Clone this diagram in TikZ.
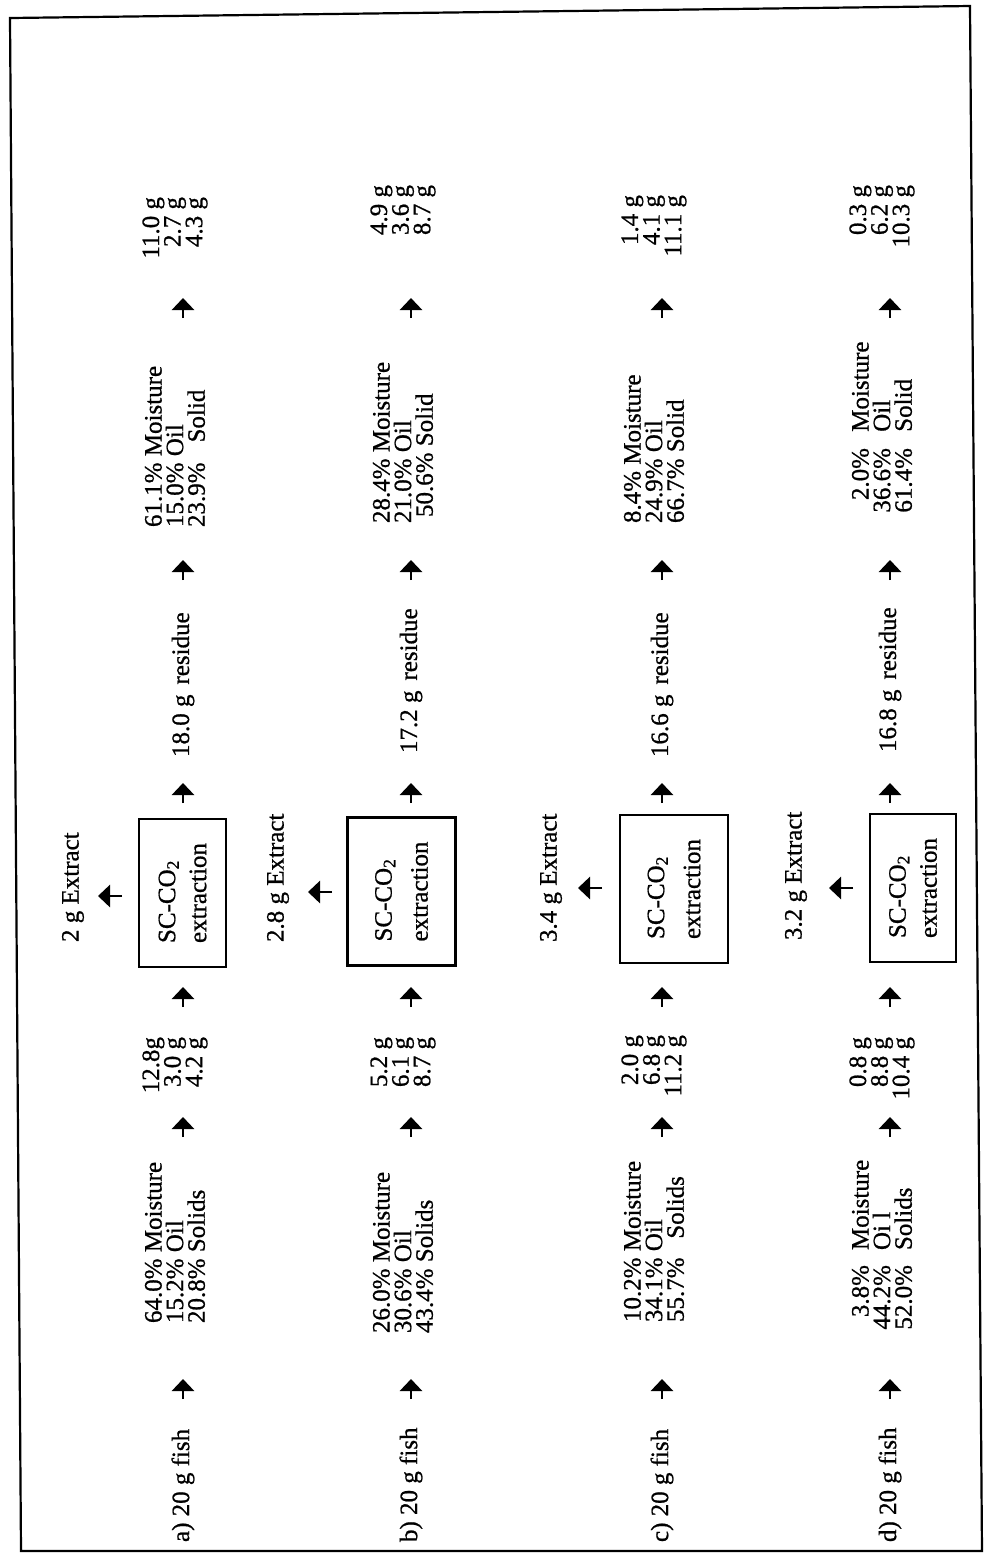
\documentclass[tikz,border=0pt]{standalone}
\usepackage{fontspec}
\setmainfont{Liberation Serif}[FakeBold=0.8]
\usetikzlibrary{arrows.meta}
\newcommand\pcrow[3]{\makebox[2.6em][r]{#1}\hspace{#3}#2}
\newcommand\lblfont{\fontsize{12.5}{10.8}\selectfont\lineskiplimit=-20pt\relax}
\newcommand\boxfont{\fontsize{12.5}{15.5}\selectfont}
\newcommand\wideboxfont{\fontsize{12.5}{18}\selectfont}
\begin{document}
\begin{tikzpicture}[x=0.5pt,y=-0.5pt,
  lbl/.style={rotate=90, inner sep=0pt, outer sep=0pt, font=\lblfont},
  lblL/.style={lbl, anchor=west, align=left},
  lblR/.style={lbl, anchor=east, align=right},
  procbox/.style={rotate=90, draw, line width=1.2pt, minimum width=74pt,
    inner sep=0pt, align=left, font=\boxfont},
  wideprocbox/.style={procbox, minimum height=54pt, font=\wideboxfont},
  arr/.style={line width=1.4pt, -{Triangle[length=6pt,width=11pt]}},
  frame/.style={line width=1.1pt, line join=miter}
]
\useasboundingbox (0,0) rectangle (984,1555);
\draw[frame] (10,18) -- (970,6) -- (982,1551) -- (21,1551) -- cycle;

% ---------- row a ----------
\node[lblL] (fishA) at (183,1542) {a) 20 g fish};
\node[lblL] (pA1) at (175,1323) {64.0\% Moisture\\15.2\% Oil\\20.8\% Solids};
\node[lblR] (gA1) at (175,1037) {12.8g\\3.0 g\\4.2 g};
\node[procbox, minimum height=43.5pt] (boxA) at (182.5,893) {SC-CO\textsubscript{2}\\extraction};
\node[lblL] (extA) at (73,942) {2 g Extract};
\node[lblL] (resA) at (183,757) {18.0 g\hspace{0.15em} residue};
\node[lblL] (pA2) at (175,527) {61.1\% Moisture\\15.0\% Oil\\23.9\%\hspace{0.55em} Solid};
\node[lblR] (gA2) at (175,197) {11.0 g\\2.7 g\\4.3 g};

% ---------- row b ----------
\node[lblL] (fishB) at (411,1542) {b) 20 g fish};
\node[lblL] (pB1) at (403,1333) {26.0\% Moisture\\30.6\% Oil\\43.4\% Solids};
\node[lblR] (gB1) at (403,1037) {5.2 g\\6.1 g\\8.7 g};
\node[wideprocbox] (boxB) at (401.5,891.5) {SC-CO\textsubscript{2}\\extraction};
\node[lblL] (extB) at (278,942) {2.8 g Extract};
\node[lblL] (resB) at (411,753) {17.2 g\hspace{0.15em} residue};
\node[lblL] (pB2) at (403,523) {28.4\% Moisture\\21.0\% Oil\\\hspace{3pt}50.6\% Solid};
\node[lblR] (gB2) at (403,185) {4.9 g\\3.6 g\\8.7 g};

% ---------- row c ----------
\node[lblL] (fishC) at (662,1542) {c) 20 g fish};
\node[lblL] (pC1) at (654,1322) {10.2\% Moisture\\34.1\% Oil\\55.7\%\hspace{0.5em} Solids};
\node[lblR] (gC1) at (654,1035) {2.0 g\\6.8 g\\11.2 g};
\node[wideprocbox] (boxC) at (674,889) {SC-CO\textsubscript{2}\\extraction};
\node[lblL] (extC) at (551,942) {3.4 g Extract};
\node[lblL] (resC) at (662,757) {16.6 g\hspace{0.15em} residue};
\node[lblL] (pC2) at (654,523) {8.4\% Moisture\\24.9\% Oil\\66.7\% Solid};
\node[lblR] (gC2) at (654,195) {1.4 g\\4.1 g\\11.1 g};

% ---------- row d ----------
\node[lblL] (fishD) at (890,1542) {d) 20 g fish};
\node[lblL] (pD1) at (882,1330) {\pcrow{3.8\%}{Moisture}{0.6em}\\\pcrow{44.2\%}{Oi l}{0.6em}\\\pcrow{52.0\%}{Solids}{0.6em}};
\node[lblR] (gD1) at (882,1037) {0.8 g\\8.8 g\\10.4 g};
\node[procbox, minimum height=43pt] (boxD) at (913,888) {SC-CO\textsubscript{2}\\extraction};
\node[lblL] (extD) at (796,940) {3.2 g Extract};
\node[lblL] (resD) at (890,752) {16.8 g\hspace{0.15em} residue};
\node[lblL] (pD2) at (882,513) {\pcrow{2.0\%}{Moisture}{0.65em}\\\pcrow{36.6\%}{Oil}{0.65em}\\\pcrow{61.4\%}{Solid}{0.65em}};
\node[lblR] (gD2) at (882,185) {0.3 g\\6.2 g\\10.3 g};

% ---------- flow arrows ----------
\foreach \r/\x in {A/183,B/411,C/662,D/890}{
  \foreach \k/\y in {1/1389,2/1127,3/997,4/793,5/570,6/308}{
    \coordinate (\r\k s) at (\x,{\y+10});
    \coordinate (\r\k e) at (\x,{\y-10});
    \draw[arr] (\r\k s) -- (\r\k e);
  }
}
% ---------- extract arrows ----------
\foreach \r/\x/\y in {A/110/896,B/320/892,C/590/888,D/841/888}{
  \coordinate (\r xs) at ({\x+12},\y);
  \coordinate (\r xe) at ({\x-12},\y);
  \draw[arr] (\r xs) -- (\r xe);
}
\end{tikzpicture}
\end{document}
